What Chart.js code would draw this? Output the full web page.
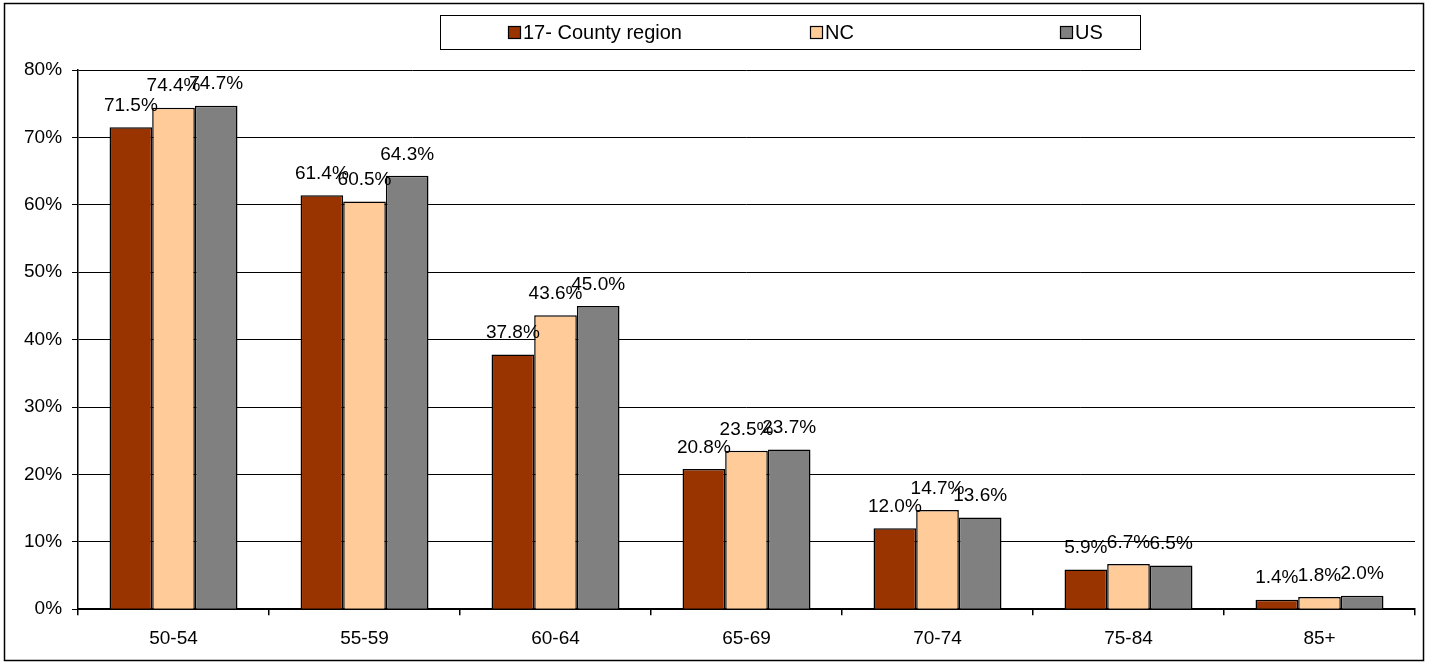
<!DOCTYPE html>
<html>
<head>
<meta charset="utf-8">
<script src="https://cdn.jsdelivr.net/npm/chart.js@4"></script>
<style>
html,body{margin:0;padding:0;background:#fff;}
#wrap{position:relative;width:1432px;height:663px;}
</style>
</head>
<body>
<div id="wrap"><canvas id="c" width="1432" height="663"></canvas></div>
<script>
const categories = ["50-54","55-59","60-64","65-69","70-74","75-84","85+"];
const seriesNames = ["17- County region","NC","US"];
const countyValues = [71.5, 61.4, 37.8, 20.8, 12.0, 5.9, 1.4];
const ncValues = [74.4, 60.5, 43.6, 23.5, 14.7, 6.7, 1.8];
const usValues = [74.7, 64.3, 45.0, 23.7, 13.6, 6.5, 2.0];
const yTicks = [0,10,20,30,40,50,60,70,80];

const FONT = "'Liberation Sans', Arial, sans-serif";
const colors = ["#993300", "#FFCC99", "#808080"];

const borderPlugin = {
  id: 'outerBorder',
  beforeDraw(chart) {
    const ctx = chart.ctx;
    ctx.save();
    ctx.fillStyle = '#fff';
    ctx.fillRect(0,0,chart.width,chart.height);
    ctx.strokeStyle = '#000';
    ctx.lineWidth = 1.5;
    ctx.strokeRect(4.5, 3.5, 1419, 657);
    ctx.restore();
  }
};

const legendPlugin = {
  id: 'boxLegend',
  afterDraw(chart) {
    const ctx = chart.ctx;
    ctx.save();
    ctx.strokeStyle = '#000';
    ctx.lineWidth = 1;
    ctx.strokeRect(440.5, 15.5, 700, 34);
    const xs = [508, 810, 1060];
    ctx.font = "20px " + FONT;
    ctx.textBaseline = 'middle';
    chart.data.datasets.forEach((ds, i) => {
      ctx.fillStyle = ds.backgroundColor;
      ctx.fillRect(xs[i] + 0.5, 26.5, 12, 12);
      ctx.strokeStyle = '#000';
      ctx.lineWidth = 1.2;
      ctx.strokeRect(xs[i] + 0.5, 26.5, 12, 12);
      ctx.fillStyle = '#000';
      ctx.fillText(ds.label, xs[i] + 15, 33);
    });
    ctx.restore();
  }
};

const labelPlugin = {
  id: 'barLabels',
  afterDatasetsDraw(chart) {
    const ctx = chart.ctx;
    ctx.save();
    ctx.font = "19px " + FONT;
    ctx.fillStyle = '#000';
    ctx.textAlign = 'center';
    ctx.textBaseline = 'bottom';
    chart.data.datasets.forEach((ds, i) => {
      const meta = chart.getDatasetMeta(i);
      meta.data.forEach((el, j) => {
        ctx.fillText(ds.data[j].toFixed(1) + '%', el.x, el.y - 12);
      });
    });
    ctx.restore();
  }
};

new Chart(document.getElementById('c'), {
  type: 'bar',
  data: {
    labels: categories,
    datasets: [
      { label: seriesNames[0], data: countyValues, backgroundColor: colors[0], borderColor: '#000', borderWidth: 1.5 },
      { label: seriesNames[1], data: ncValues, backgroundColor: colors[1], borderColor: '#000', borderWidth: 1.5 },
      { label: seriesNames[2], data: usValues, backgroundColor: colors[2], borderColor: '#000', borderWidth: 1.5 }
    ]
  },
  options: {
    responsive: false,
    animation: false,
    devicePixelRatio: 1,
    layout: { padding: { left: 14, right: 17, top: 70, bottom: 1 } },
    datasets: { bar: { categoryPercentage: 0.67, barPercentage: 1.0 } },
    plugins: {
      legend: { display: false },
      tooltip: { enabled: false },
      title: { display: false }
    },
    scales: {
      x: {
        grid: { display: true, drawOnChartArea: false, drawTicks: true, tickLength: 6, color: '#000', lineWidth: 1.5, offset: true },
        border: { color: '#000', width: 2 },
        ticks: { color: '#000', font: { family: FONT, size: 19 }, padding: 12 }
      },
      y: {
        min: 0, max: 80,
        afterBuildTicks(axis) { axis.ticks = yTicks.map(v => ({ value: v })); },
        grid: { color: '#000', lineWidth: 1, tickLength: 6 },
        border: { color: '#000', width: 1.5 },
        ticks: { color: '#000', font: { family: FONT, size: 19 }, padding: 10, callback: v => v + '%' }
      }
    }
  },
  plugins: [borderPlugin, legendPlugin, labelPlugin]
});
</script>
</body>
</html>
